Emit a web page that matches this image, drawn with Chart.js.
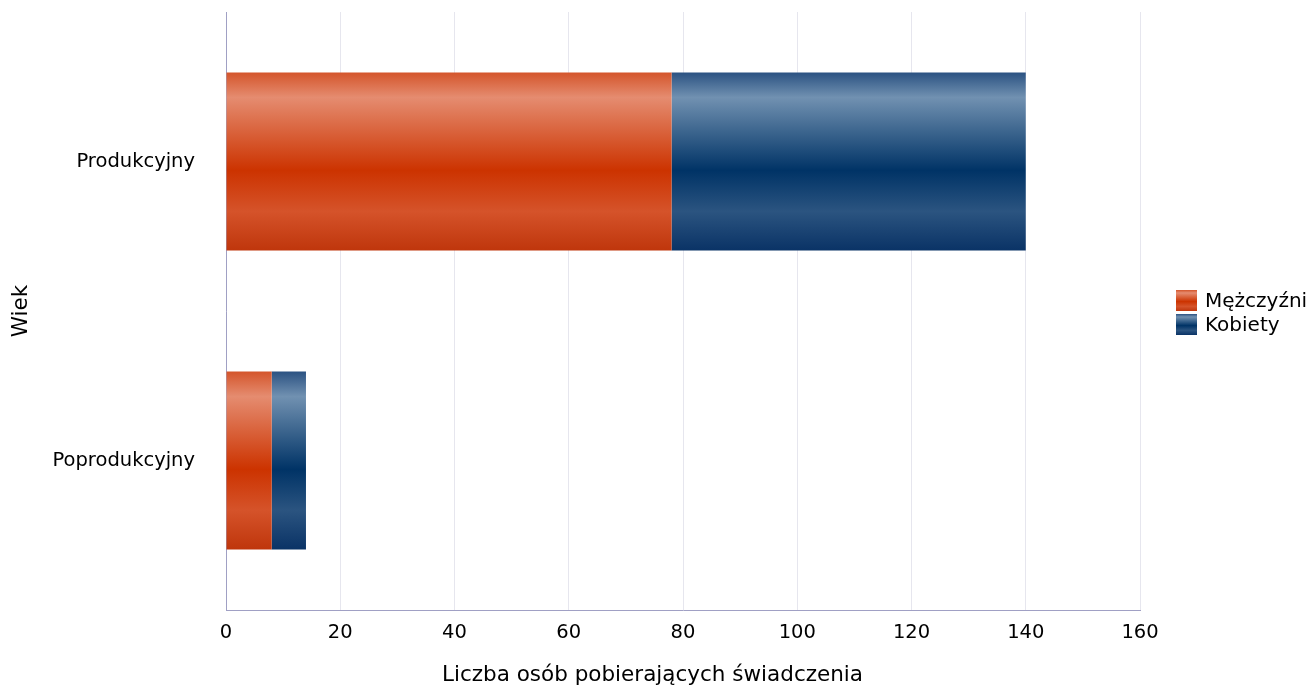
<!DOCTYPE html>
<html>
<head>
<meta charset="utf-8">
<script src="https://cdn.jsdelivr.net/npm/chart.js@4.4.1/dist/chart.umd.min.js"></script>
<style>
  html, body { margin: 0; padding: 0; background: #fff; }
  #wrap { position: relative; width: 1311px; height: 690px; }
  #legend { position: absolute; left: 1176px; top: 288px; font-family: "DejaVu Sans", sans-serif; font-size: 20px; color: #000; }
  #legend .item { display: flex; align-items: center; height: 24px; }
  #legend .box { width: 21px; height: 21px; margin-right: 8px; }
  #xtitle { position: absolute; left: 0; top: 661px; width: 1305px; text-align: center;
            font-family: "DejaVu Sans", sans-serif; font-size: 21.5px; line-height: 26px; color: #000; }
</style>
</head>
<body>
<div id="wrap">
  <canvas id="chart" width="1311" height="690"></canvas>
  <div id="legend"></div>
  <div id="xtitle"></div>
</div>
<script>
// data
const categories = ["Produkcyjny", "Poprodukcyjny"];
const men = [78, 8];
const women = [62, 6];
const seriesNames = ["Mężczyźni", "Kobiety"];
const xTicks = [0, 20, 40, 60, 80, 100, 120, 140, 160];
const xTitle = "Liczba osób pobierających świadczenia";
const yTitle = "Wiek";

const FONT = "'DejaVu Sans', sans-serif";

// gradient stops: light band near the top, dark in the middle
const palettes = {
  red: [[0, "#d4552b"], [0.14, "#e58c70"], [0.55, "#cc3300"], [0.78, "#d5532a"], [1, "#bf360c"]],
  blue: [[0, "#2b5282"], [0.14, "#7191b1"], [0.55, "#003366"], [0.78, "#2b5480"], [1, "#0a3366"]],
};

function cssGradient(stops) {
  return "linear-gradient(to bottom, " + stops.map(s => s[1] + " " + (s[0] * 100) + "%").join(", ") + ")";
}

function barGradient(name) {
  return function (ctx) {
    const chart = ctx.chart;
    const y = chart.scales.y;
    if (!chart.chartArea || !y || ctx.dataIndex === undefined) return palettes[name][2][1];
    const center = y.getPixelForValue(ctx.dataIndex);
    const half = (y.height / categories.length) * 0.595 / 2;
    const g = chart.ctx.createLinearGradient(0, center - half, 0, center + half);
    palettes[name].forEach(s => g.addColorStop(s[0], s[1]));
    return g;
  };
}

// html legend + x title (the original centres the title on the page, not the plot)
const legendEl = document.getElementById("legend");
[["red", seriesNames[0]], ["blue", seriesNames[1]]].forEach(function (p) {
  const item = document.createElement("div");
  item.className = "item";
  item.innerHTML = '<div class="box" style="background:' + cssGradient(palettes[p[0]]) + '"></div><span>' + p[1] + "</span>";
  legendEl.appendChild(item);
});
document.getElementById("xtitle").textContent = xTitle;

const chart = new Chart(document.getElementById("chart").getContext("2d"), {
  type: "bar",
  data: {
    labels: categories,
    datasets: [
      { label: seriesNames[0], data: men, backgroundColor: barGradient("red"), borderWidth: 0 },
      { label: seriesNames[1], data: women, backgroundColor: barGradient("blue"), borderWidth: 0 },
    ],
  },
  options: {
    indexAxis: "y",
    responsive: false,
    animation: false,
    layout: { padding: { top: 12, right: 171, left: 0, bottom: 0 } },
    datasets: { bar: { categoryPercentage: 1, barPercentage: 0.595 } },
    plugins: { legend: { display: false }, tooltip: { enabled: false } },
    scales: {
      x: {
        stacked: true,
        min: 0,
        max: 160,
        afterBuildTicks: function (scale) {
          scale.ticks = xTicks.map(v => ({ value: v }));
        },
        afterFit: function (scale) { scale.height = 80; },
        grid: { color: "#e6e6ee", drawTicks: false },
        border: { color: "#a0a0c4" },
        ticks: { color: "#000", padding: 11, font: { family: FONT, size: 19.5 } },
        title: { display: false },
      },
      y: {
        stacked: true,
        afterFit: function (scale) {
          scale.width = 226;
          scale.paddingTop = 0;
          scale.paddingBottom = 0;
        },
        grid: { display: false, drawTicks: false },
        border: { color: "#a0a0c4" },
        ticks: { color: "#000", padding: 31, font: { family: FONT, size: 19.5 } },
        title: {
          display: true,
          text: yTitle,
          color: "#000",
          font: { family: FONT, size: 21.5 },
          padding: { top: 9, bottom: 0 },
        },
      },
    },
  },
});
chart.update();
</script>
</body>
</html>
